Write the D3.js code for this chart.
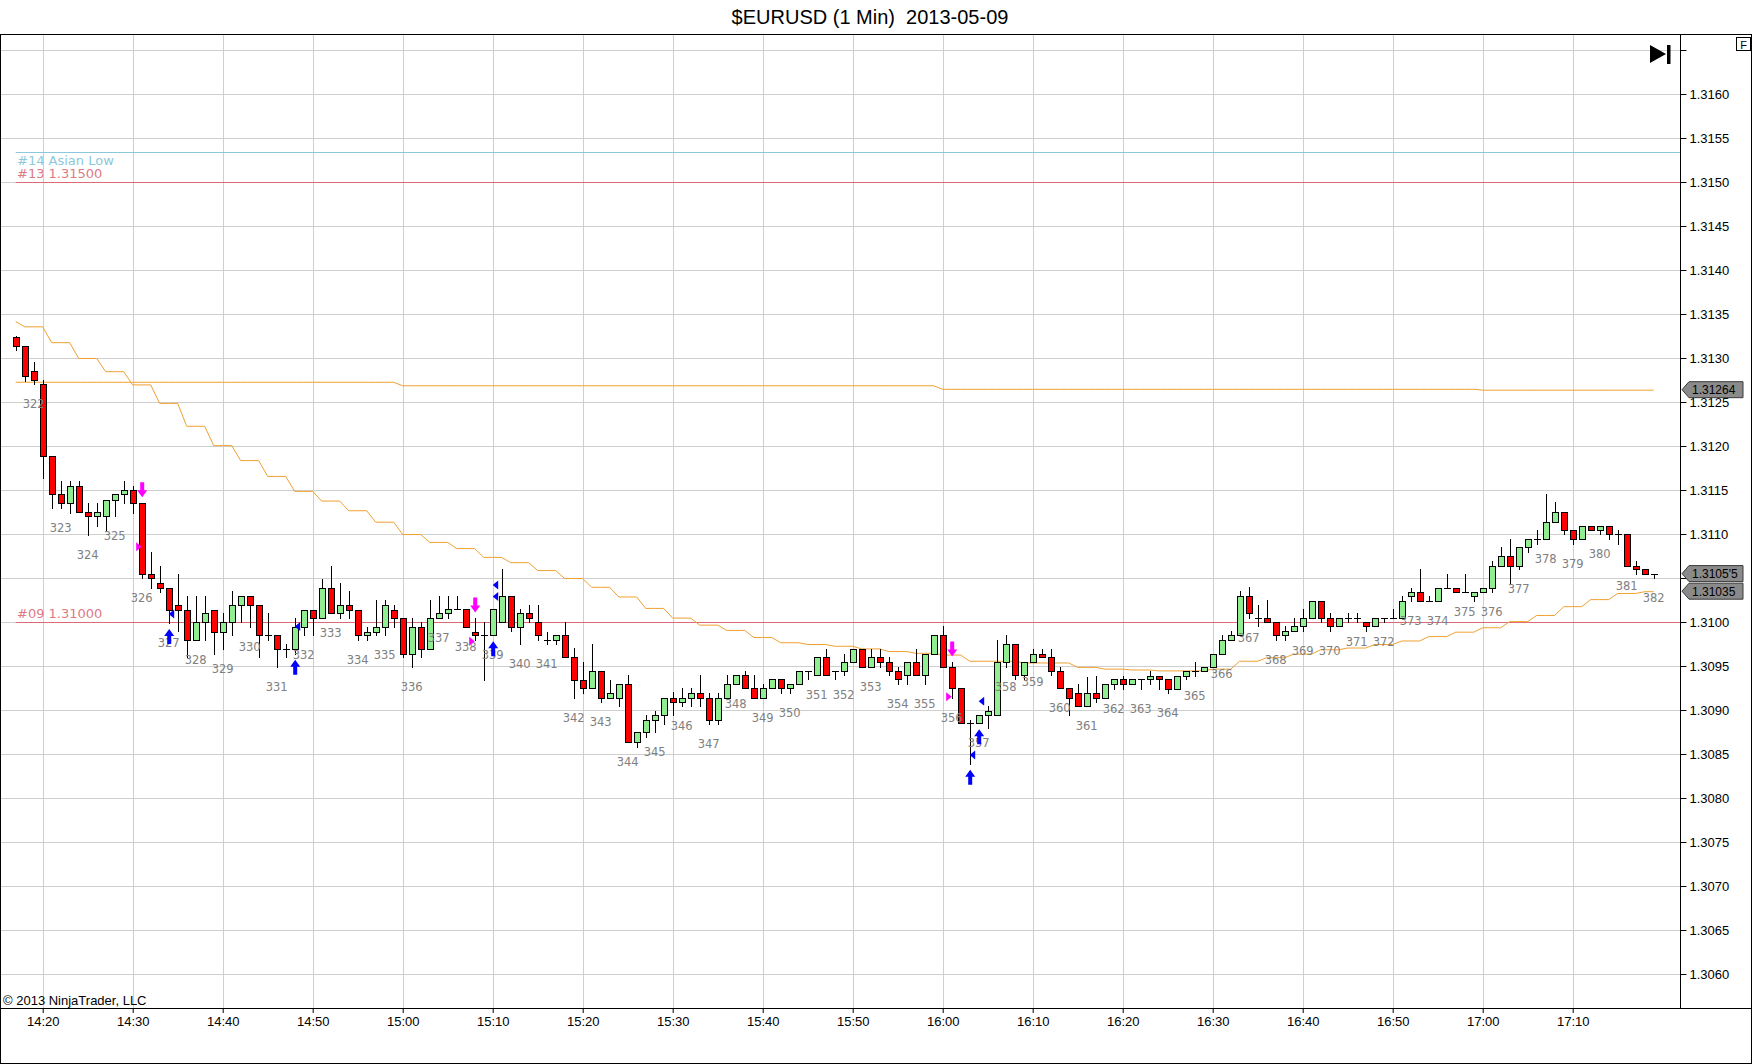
<!DOCTYPE html>
<html>
<head>
<meta charset="utf-8">
<script src="https://cdn.jsdelivr.net/npm/d3@7"></script>
<style>
body { margin: 0; background: #fff; }
svg { display: block; font-family: Arial, "Liberation Sans", sans-serif; }
</style>
</head>
<body>
<div id="chart"></div>
<script>
// ---- data (EURUSD 1 min, 2013-05-09, first bar 14:17) ----
const firstBarTime = "2013-05-09 14:17";

const opens = [
1.31324,1.31314,1.31285,1.31270,1.31189,1.31145,1.31135,1.31154,1.31125,1.31120,
1.31120,1.31139,1.31145,1.31150,1.31135,1.31054,1.31044,1.31039,1.31019,1.31014,
1.30979,1.31000,1.31014,1.30989,1.31000,1.31019,1.31029,1.31019,1.30985,1.30985,
1.30969,1.30969,1.30994,1.31014,1.31004,1.31039,1.31010,1.31019,1.31014,1.30985,
1.30989,1.30994,1.31014,1.31004,1.30964,1.30994,1.30969,1.31004,1.31010,1.31015,
1.31015,1.30989,1.30985,1.30985,1.31000,1.31029,1.30994,1.31010,1.31000,1.30980,
1.30980,1.30985,1.30960,1.30934,1.30925,1.30944,1.30914,1.30914,1.30929,1.30864,
1.30875,1.30889,1.30894,1.30914,1.30909,1.30914,1.30919,1.30914,1.30889,1.30914,
1.30929,1.30940,1.30925,1.30914,1.30925,1.30935,1.30925,1.30929,1.30944,1.30940,
1.30960,1.30944,1.30944,1.30954,1.30969,1.30949,1.30960,1.30954,1.30944,1.30940,
1.30954,1.30940,1.30964,1.30985,1.30949,1.30925,1.30885,1.30885,1.30894,1.30894,
1.30954,1.30975,1.30940,1.30954,1.30964,1.30960,1.30944,1.30925,1.30919,1.30904,
1.30919,1.30914,1.30929,1.30935,1.30929,1.30935,1.30935,1.30939,1.30935,1.30924,
1.30939,1.30944,1.30944,1.30949,1.30964,1.30980,1.30985,1.31030,1.31004,1.31004,
1.31000,1.30985,1.30990,1.30995,1.31004,1.31024,1.31004,1.30995,1.31004,1.31004,
1.31000,1.30995,1.31004,1.31004,1.31004,1.31029,1.31034,1.31024,1.31024,1.31039,
1.31039,1.31034,1.31029,1.31034,1.31039,1.31064,1.31075,1.31064,1.31085,1.31094,
1.31094,1.31114,1.31125,1.31105,1.31094,1.31109,1.31105,1.31109,1.31100,1.31100,
1.31064,1.31060,1.31055
];

const highs = [
1.31325,1.31314,1.31295,1.31275,1.31189,1.31160,1.31160,1.31160,1.31135,1.31135,
1.31139,1.31145,1.31160,1.31154,1.31135,1.31079,1.31064,1.31039,1.31054,1.31029,
1.31029,1.31029,1.31014,1.31010,1.31035,1.31029,1.31029,1.31019,1.31010,1.30985,
1.30975,1.31004,1.31014,1.31014,1.31049,1.31064,1.31044,1.31035,1.31014,1.30994,
1.31025,1.31025,1.31019,1.31004,1.31004,1.31000,1.31025,1.31029,1.31029,1.31030,
1.31015,1.31004,1.31000,1.31015,1.31060,1.31029,1.31015,1.31019,1.31019,1.30989,
1.30985,1.31000,1.30970,1.30955,1.30975,1.30944,1.30934,1.30929,1.30940,1.30875,
1.30894,1.30899,1.30914,1.30920,1.30925,1.30925,1.30940,1.30919,1.30919,1.30940,
1.30940,1.30944,1.30940,1.30929,1.30935,1.30935,1.30929,1.30944,1.30944,1.30960,
1.30969,1.30944,1.30964,1.30969,1.30969,1.30969,1.30969,1.30960,1.30949,1.30954,
1.30969,1.30964,1.30985,1.30995,1.30954,1.30925,1.30889,1.30894,1.30904,1.30980,
1.30985,1.30975,1.30954,1.30969,1.30969,1.30969,1.30949,1.30925,1.30929,1.30938,
1.30939,1.30929,1.30935,1.30939,1.30935,1.30935,1.30944,1.30939,1.30935,1.30939,
1.30944,1.30955,1.30949,1.30964,1.30985,1.30990,1.31035,1.31040,1.31019,1.31025,
1.31000,1.30995,1.31005,1.31015,1.31024,1.31024,1.31010,1.31004,1.31010,1.31010,
1.31000,1.31004,1.31004,1.31015,1.31030,1.31039,1.31060,1.31030,1.31039,1.31054,
1.31039,1.31054,1.31034,1.31039,1.31069,1.31085,1.31094,1.31085,1.31094,1.31105,
1.31145,1.31136,1.31125,1.31105,1.31109,1.31109,1.31109,1.31109,1.31105,1.31100,
1.31069,1.31060,1.31055
];

const lows = [
1.31309,1.31274,1.31270,1.31164,1.31129,1.31129,1.31124,1.31125,1.31099,1.31109,
1.31104,1.31120,1.31135,1.31124,1.31050,1.31039,1.31034,1.30999,1.30990,1.30960,
1.30979,1.30979,1.30964,1.30969,1.30985,1.31000,1.30994,1.30960,1.30979,1.30949,
1.30960,1.30964,1.30985,1.30985,1.31004,1.31010,1.31004,1.31004,1.30979,1.30979,
1.30985,1.30985,1.30994,1.30960,1.30949,1.30960,1.30969,1.31004,1.31004,1.31015,
1.30994,1.30980,1.30934,1.30985,1.31000,1.30990,1.30975,1.31000,1.30980,1.30975,
1.30975,1.30960,1.30914,1.30919,1.30925,1.30909,1.30914,1.30904,1.30864,1.30858,
1.30869,1.30875,1.30884,1.30894,1.30904,1.30904,1.30904,1.30884,1.30884,1.30914,
1.30929,1.30925,1.30914,1.30914,1.30925,1.30919,1.30919,1.30929,1.30935,1.30940,
1.30940,1.30935,1.30940,1.30954,1.30949,1.30949,1.30949,1.30940,1.30929,1.30929,
1.30940,1.30929,1.30964,1.30949,1.30914,1.30885,1.30839,1.30885,1.30879,1.30894,
1.30949,1.30935,1.30935,1.30954,1.30960,1.30940,1.30925,1.30894,1.30905,1.30904,
1.30909,1.30914,1.30924,1.30924,1.30929,1.30924,1.30929,1.30924,1.30919,1.30924,
1.30935,1.30939,1.30944,1.30949,1.30964,1.30980,1.30985,1.31005,1.30995,1.31000,
1.30980,1.30980,1.30990,1.30990,1.31004,1.31000,1.30990,1.30995,1.31000,1.31000,
1.30990,1.30995,1.31000,1.31004,1.31004,1.31024,1.31024,1.31024,1.31024,1.31039,
1.31034,1.31034,1.31024,1.31034,1.31034,1.31064,1.31044,1.31060,1.31080,1.31089,
1.31094,1.31114,1.31100,1.31089,1.31094,1.31105,1.31100,1.31094,1.31089,1.31064,
1.31054,1.31054,1.31050
];

const closes = [
1.31314,1.31279,1.31275,1.31189,1.31145,1.31135,1.31154,1.31125,1.31120,1.31125,
1.31139,1.31145,1.31150,1.31135,1.31054,1.31050,1.31039,1.31014,1.31014,1.30979,
1.31000,1.31010,1.30989,1.31000,1.31019,1.31029,1.31019,1.30985,1.30985,1.30969,
1.30969,1.30994,1.31014,1.31004,1.31039,1.31010,1.31019,1.31014,1.30985,1.30989,
1.30994,1.31019,1.31004,1.30964,1.30994,1.30969,1.31004,1.31010,1.31015,1.31015,
1.30994,1.30985,1.30985,1.31015,1.31029,1.30994,1.31010,1.31004,1.30985,1.30980,
1.30985,1.30960,1.30934,1.30925,1.30944,1.30914,1.30919,1.30929,1.30864,1.30875,
1.30889,1.30894,1.30914,1.30909,1.30914,1.30919,1.30914,1.30889,1.30914,1.30929,
1.30940,1.30925,1.30914,1.30925,1.30935,1.30925,1.30929,1.30944,1.30944,1.30960,
1.30940,1.30944,1.30954,1.30969,1.30949,1.30960,1.30954,1.30944,1.30935,1.30954,
1.30940,1.30964,1.30985,1.30949,1.30925,1.30885,1.30885,1.30894,1.30899,1.30954,
1.30975,1.30940,1.30954,1.30964,1.30960,1.30944,1.30925,1.30914,1.30905,1.30919,
1.30914,1.30929,1.30935,1.30929,1.30935,1.30935,1.30939,1.30935,1.30924,1.30939,
1.30944,1.30944,1.30949,1.30964,1.30980,1.30985,1.31030,1.31010,1.31004,1.31000,
1.30985,1.30990,1.30995,1.31004,1.31024,1.31004,1.30995,1.31004,1.31004,1.31004,
1.30995,1.31004,1.31004,1.31004,1.31024,1.31034,1.31024,1.31024,1.31039,1.31039,
1.31034,1.31034,1.31034,1.31039,1.31064,1.31075,1.31064,1.31085,1.31094,1.31094,
1.31114,1.31125,1.31105,1.31094,1.31109,1.31105,1.31109,1.31100,1.31100,1.31064,
1.31060,1.31055,1.31055
];

// 3-minute moving average, first value for the first bar, then one value per 3 bars
const maSteps = [
1.31342,
1.31336,1.31318,1.31300,1.31285,1.31270,1.31249,1.31223,1.31201,1.31184,1.31166,
1.31149,1.31138,1.31127,1.31114,1.31100,1.31091,1.31084,1.31074,1.31068,1.31059,
1.31050,1.31040,1.31029,1.31016,1.31005,1.30997,1.30991,1.30983,1.30977,1.30975,
1.30973,1.30970,1.30967,1.30965,1.30963,1.30956,1.30956,1.30954,1.30954,1.30949,
1.30947,1.30946,1.30945,1.30945,1.30947,1.30956,1.30960,1.30964,1.30969,1.30971,
1.30975,1.30979,1.30984,1.30989,1.30994,1.31001,1.31008,1.31018,1.31026,1.31033,
1.31035
];

// slow level (changes on the hour)
const levelStarts = ["14:17", "15:00", "16:00", "17:00"];
const levelValues = [1.31273, 1.31269, 1.31265, 1.31264];

// horizontal drawn lines
const lineNames  = ["#14 Asian Low", "#13 1.31500", "#09 1.31000"];
const linePrices = [1.31534, 1.31500, 1.31000];

// signal markers (bar times)
const shortArrows = ["14:31", "15:08", "16:01"];
const longArrows  = ["14:34", "14:48", "15:10", "16:03", "16:04"];
const entryTimes  = ["14:31", "15:08", "16:01"];
const entryPrices = [1.310855, 1.30978, 1.30915];
const exitTimes   = ["14:34", "14:48", "15:10", "15:10", "16:03", "16:04"];
const exitPrices  = [1.31009, 1.30995, 1.31042, 1.31029, 1.30849, 1.30910];

// bar counter labels
const counterStart = 322;
const counterFirstBar = "14:19";
const counterEvery = 3;

// axis ticks
const timeTicks = ["14:20","14:30","14:40","14:50","15:00","15:10","15:20","15:30","15:40",
  "15:50","16:00","16:10","16:20","16:30","16:40","16:50","17:00","17:10"];
const priceTicks = ["1.3060","1.3065","1.3070","1.3075","1.3080","1.3085","1.3090","1.3095",
  "1.3100","1.3105","1.3110","1.3115","1.3120","1.3125","1.3130","1.3135","1.3140","1.3145",
  "1.3150","1.3155","1.3160","1.3165"];

// right-edge price markers
const markLabels = ["1.31264", "1.3105'5", "1.31035"];
const markPrices = [1.31264, 1.31055, 1.31035];

// ---- layout ----
const W = 1752, H = 1064;
const plotTop = 34, plotBottom = 1008, axisX = 1680;
const barStep = 9;
const firstX = 15.7;

const parseFull = d3.timeParse("%Y-%m-%d %H:%M");
const t0 = parseFull(firstBarTime);
const atTime = s => parseFull("2013-05-09 " + s);

const bars = opens.map((o, i) => ({
  i: i,
  time: d3.timeMinute.offset(t0, i),
  open: o, high: highs[i], low: lows[i], close: closes[i]
}));
const byTime = new Map(bars.map(b => [+b.time, b]));

const x = d3.scaleTime()
  .domain([t0, bars[bars.length - 1].time])
  .range([firstX, firstX + barStep * (bars.length - 1)]);

const y = d3.scaleLinear()
  .domain([1.3060, 1.3165])
  .range([974, 50]);

const px = v => Math.round(v) + 0.5;

const svg = d3.select("#chart")
  .append("svg")
  .attr("width", W)
  .attr("height", H);

svg.append("rect").attr("width", W).attr("height", H).attr("fill", "#fff");

// title
svg.append("text")
  .attr("x", 870).attr("y", 24)
  .attr("text-anchor", "middle")
  .attr("font-size", 20)
  .style("white-space", "pre")
  .text("$EURUSD (1 Min)  2013-05-09");

// grid
svg.append("g").selectAll("line")
  .data(priceTicks)
  .enter().append("line")
  .attr("x1", 1).attr("x2", axisX)
  .attr("y1", d => px(y(+d))).attr("y2", d => px(y(+d)))
  .attr("stroke", "#cfcfcf");

svg.append("g").selectAll("line")
  .data(timeTicks)
  .enter().append("line")
  .attr("x1", d => px(x(atTime(d)))).attr("x2", d => px(x(atTime(d))))
  .attr("y1", plotTop).attr("y2", plotBottom)
  .attr("stroke", "#cfcfcf");

// drawn horizontal lines
const lineColors = ["#8cc8dc", "#dc6a76", "#dc6a76"];
const textColors = ["#8cc8dc", "#e07a84", "#e07a84"];
const labelBelow = [true, false, false];
linePrices.forEach((p, i) => {
  svg.append("line")
    .attr("x1", x(t0)).attr("x2", axisX)
    .attr("y1", px(y(p))).attr("y2", px(y(p)))
    .attr("stroke", lineColors[i]);
  svg.append("text")
    .attr("x", 17)
    .attr("y", labelBelow[i] ? y(p) + 13 : y(p) - 4)
    .attr("font-family", "'DejaVu Sans', Verdana, sans-serif")
    .attr("font-size", 13)
    .attr("fill", textColors[i])
    .text(lineNames[i]);
});

// orange lines
const maPoints = bars.map(b => ({
  time: b.time,
  v: b.i === 0 ? maSteps[0] : maSteps[1 + Math.floor((b.i - 1) / 3)]
}));
const levelTimes = levelStarts.map(atTime);
const levelPoints = bars.map(b => {
  let k = 0;
  levelTimes.forEach((t, j) => { if (b.time >= t) k = j; });
  return { time: b.time, v: levelValues[k] };
});

const line = d3.line()
  .x(d => x(d.time))
  .y(d => y(d.v) + 0.5);

svg.append("path").datum(levelPoints)
  .attr("d", line).attr("fill", "none")
  .attr("stroke", "#f0a030").attr("stroke-width", 1);

svg.append("path").datum(maPoints)
  .attr("d", line).attr("fill", "none")
  .attr("stroke", "#f0a030").attr("stroke-width", 1);

// candles
const candles = svg.append("g");
candles.selectAll(".wick")
  .data(bars)
  .enter().append("line")
  .attr("x1", d => px(x(d.time))).attr("x2", d => px(x(d.time)))
  .attr("y1", d => Math.round(y(d.high))).attr("y2", d => Math.round(y(d.low)) + 1)
  .attr("stroke", "#000");

candles.selectAll(".body")
  .data(bars.filter(d => d.open !== d.close))
  .enter().append("rect")
  .attr("x", d => Math.round(x(d.time)) - 2.5)
  .attr("width", 6)
  .attr("y", d => px(y(Math.max(d.open, d.close))))
  .attr("height", d => Math.max(1, Math.round(y(Math.min(d.open, d.close))) - Math.round(y(Math.max(d.open, d.close)))))
  .attr("fill", d => d.close > d.open ? "#90ee90" : "#ff0000")
  .attr("stroke", "#000");

candles.selectAll(".doji")
  .data(bars.filter(d => d.open === d.close))
  .enter().append("line")
  .attr("x1", d => Math.round(x(d.time)) - 3).attr("x2", d => Math.round(x(d.time)) + 4)
  .attr("y1", d => px(y(d.open))).attr("y2", d => px(y(d.open)))
  .attr("stroke", "#000");

// bar counter labels
const firstCounter = byTime.get(+atTime(counterFirstBar)).i;
const counted = bars.filter(b => b.i >= firstCounter && (b.i - firstCounter) % counterEvery === 0);
svg.append("g").selectAll("text")
  .data(counted)
  .enter().append("text")
  .attr("x", d => x(d.time))
  .attr("y", d => y(d.low) + 24)
  .attr("text-anchor", "middle")
  .attr("font-family", "'DejaVu Sans', Verdana, sans-serif")
  .attr("font-size", 11.5)
  .attr("fill", "#808080")
  .text(d => counterStart + (d.i - firstCounter) / counterEvery);

// arrows
const arrowShape = "M-2,-15L2,-15L2,-7L5,-7L0,0L-5,-7L-2,-7Z";
shortArrows.forEach(t => {
  const b = byTime.get(+atTime(t));
  svg.append("path")
    .attr("d", arrowShape)
    .attr("transform", `translate(${x(b.time) + 0.5},${y(b.high) - 6})`)
    .attr("fill", "#ff00ff");
});
longArrows.forEach(t => {
  const b = byTime.get(+atTime(t));
  svg.append("path")
    .attr("d", arrowShape)
    .attr("transform", `translate(${x(b.time) + 0.5},${y(b.low) + 6}) scale(1,-1)`)
    .attr("fill", "#0000ff");
});

// entry / exit triangles
entryTimes.forEach((t, i) => {
  const cx = x(atTime(t)), cy = y(entryPrices[i]);
  svg.append("path")
    .attr("d", `M${cx},${cy}L${cx - 5.5},${cy - 4.5}L${cx - 5.5},${cy + 4.5}Z`)
    .attr("fill", "#ff00ff");
});
exitTimes.forEach((t, i) => {
  const cx = x(atTime(t)), cy = y(exitPrices[i]);
  svg.append("path")
    .attr("d", `M${cx},${cy}L${cx + 5.5},${cy - 4.5}L${cx + 5.5},${cy + 4.5}Z`)
    .attr("fill", "#0000ff");
});

// time axis
svg.append("g")
  .attr("transform", `translate(0,${plotBottom})`)
  .call(d3.axisBottom(x)
    .tickValues(timeTicks.map(atTime))
    .tickFormat(d3.timeFormat("%H:%M"))
    .tickSize(5)
    .tickPadding(4))
  .call(g => g.select(".domain").remove())
  .call(g => g.selectAll("line").attr("stroke", "#000"))
  .call(g => g.selectAll("text")
    .attr("font-family", "Arial, 'Liberation Sans', sans-serif")
    .attr("font-size", 13).attr("fill", "#000"));

// price axis (labels hidden where a price mark box sits on top of them)
const coveredByMark = v => markPrices.some(p => Math.abs(y(p) - y(v)) < 8);
svg.append("g")
  .attr("transform", `translate(${axisX + 0.5},0)`)
  .call(d3.axisRight(y)
    .tickValues(priceTicks.map(Number))
    .tickFormat(d => (d >= 1.31649 || coveredByMark(d)) ? "" : d3.format(".4f")(d))
    .tickSize(6)
    .tickPadding(3))
  .call(g => g.select(".domain").remove())
  .call(g => g.selectAll("line").attr("stroke", "#000"))
  .call(g => g.selectAll("text")
    .attr("font-family", "Arial, 'Liberation Sans', sans-serif")
    .attr("font-size", 13).attr("fill", "#000"));

// right-edge price marks
markPrices.forEach((p, i) => {
  const cy = y(p);
  svg.append("path")
    .attr("d", `M${axisX + 2},${cy}L${axisX + 9},${cy - 8}L${axisX + 63},${cy - 8}L${axisX + 63},${cy + 8}L${axisX + 9},${cy + 8}Z`)
    .attr("fill", "#8a8a8a")
    .attr("stroke", "#3a3a3a");
  svg.append("text")
    .attr("x", axisX + 12).attr("y", cy + 4.5)
    .attr("font-size", 12)
    .attr("fill", "#000")
    .text(markLabels[i]);
});

// frame
svg.append("rect")
  .attr("x", 0.5).attr("y", plotTop + 0.5)
  .attr("width", W - 1).attr("height", H - plotTop - 1)
  .attr("fill", "none").attr("stroke", "#000");
svg.append("line")
  .attr("x1", 0).attr("x2", W)
  .attr("y1", plotBottom + 0.5).attr("y2", plotBottom + 0.5)
  .attr("stroke", "#000");
svg.append("line")
  .attr("x1", axisX + 0.5).attr("x2", axisX + 0.5)
  .attr("y1", plotTop).attr("y2", plotBottom)
  .attr("stroke", "#000");

// "go to end" button and F box
svg.append("path").attr("d", "M1650,45L1666,54L1650,63Z").attr("fill", "#000");
svg.append("rect").attr("x", 1667).attr("y", 45).attr("width", 3.5).attr("height", 19).attr("fill", "#000");
svg.append("rect").attr("x", 1736.5).attr("y", 37.5).attr("width", 14).attr("height", 13)
  .attr("fill", "#fff").attr("stroke", "#000");
svg.append("text").attr("x", 1743.5).attr("y", 48.5)
  .attr("text-anchor", "middle").attr("font-size", 11).text("F");

// copyright
svg.append("text")
  .attr("x", 3).attr("y", 1005)
  .attr("font-size", 13)
  .text("\u00a9 2013 NinjaTrader, LLC");
</script>
</body>
</html>
